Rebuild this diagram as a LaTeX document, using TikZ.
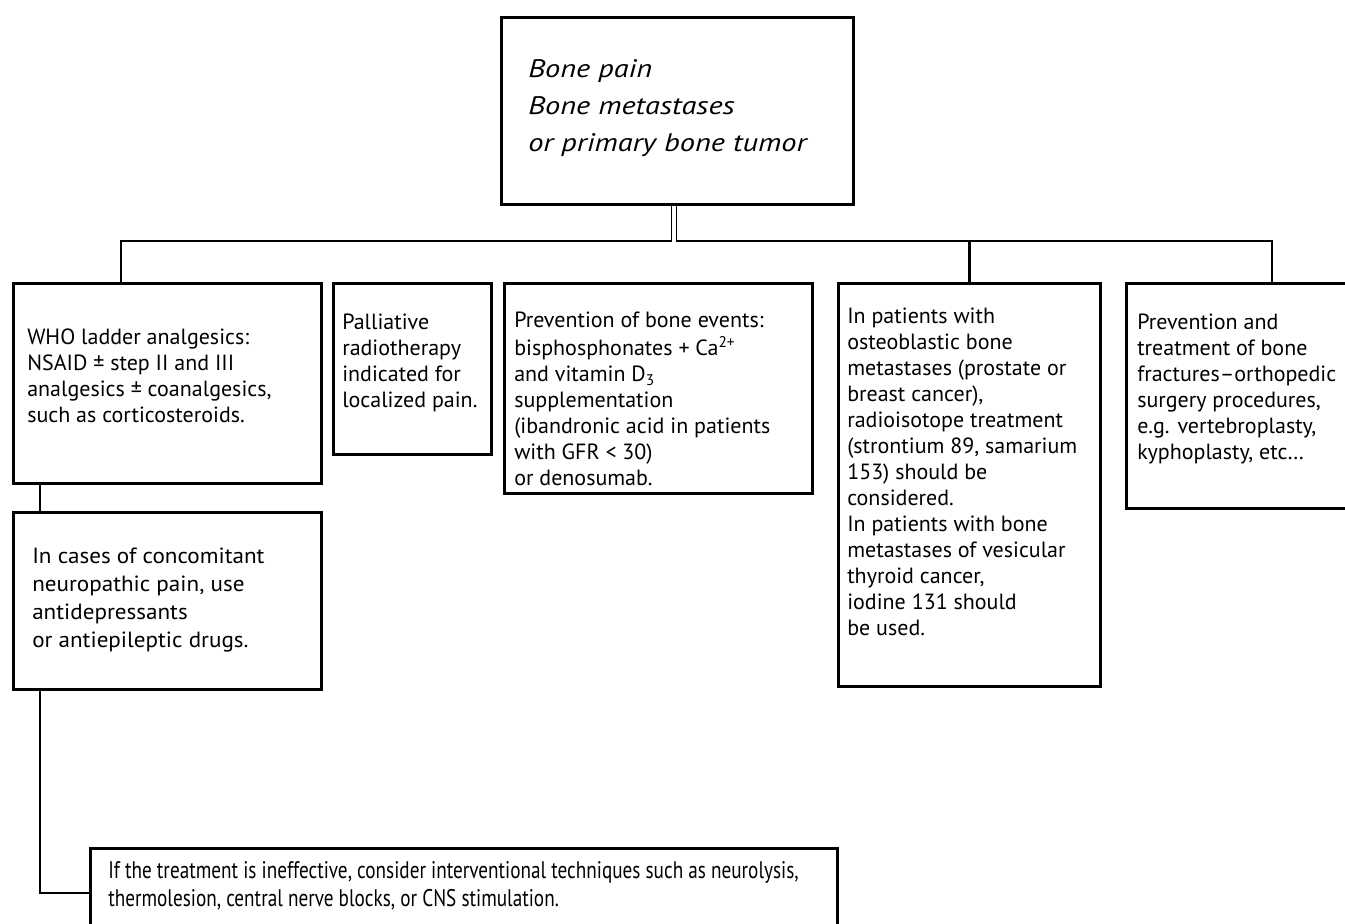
\documentclass[tikz,border=0pt]{standalone}
\usepackage{fontspec}
\setmainfont{PT Sans}
\newfontfamily\titlefam[FakeStretch=1.2]{PT Sans}
\newfontfamily\widefam[FakeStretch=1.05]{PT Sans}
\newfontfamily\narrowfam[FakeStretch=0.8]{PT Sans}
\usetikzlibrary{calc}
\newcommand\bodyfont{\fontsize{16.5}{19.5}\selectfont}
\newcommand\widefont{\widefam\fontsize{16.5}{21}\selectfont}
\newcommand\narrowfont{\narrowfam\fontsize{18}{21}\selectfont}
\newcommand\titlefont{\titlefam\itshape\fontsize{19}{27.75}\selectfont}
\tikzset{
  x=0.75pt, y=-0.75pt,
  box/.style={draw, line width=2pt, inner sep=0pt, anchor=north west},
  sz/.style 2 args={minimum width=#1*0.75pt, minimum height=#2*0.75pt},
  txt/.style={anchor=north west, inner sep=0pt, align=left, font=\bodyfont},
  conn/.style={line width=2pt, line join=miter},
}
\begin{document}
\begin{tikzpicture}
\useasboundingbox (0,0) rectangle (1345,924);
% boxes
\node[box, sz={352}{187}] (top) at (500,16) {};
\node[box, sz={308}{200}] (b1) at (12,282) {};
\node[box, sz={158}{171}] (b2) at (332,282) {};
\node[box, sz={308}{210}] (b3) at (503,282) {};
\node[box, sz={262}{403}] (b4) at (837,282) {};
\node[box, sz={250}{225}] (b5) at (1125,282) {};
\node[box, sz={308}{177}] (b6) at (12,511) {};
\node[box, sz={747}{110}] (b7) at (89,847) {};
% texts
\node[txt, font=\titlefont] (ttop) at ($(top.north west)+(28,35)$) {\strut Bone pain\\Bone metastases\\or primary bone tumor};
\node[txt] (t1) at ($(b1.north west)+(15,44)$) {\strut WHO ladder analgesics:\\NSAID ± step II and III\\analgesics ± coanalgesics,\\such as corticosteroids.};
\node[txt] (t2) at ($(b2.north west)+(10,29)$) {\strut Palliative\\radiotherapy\\indicated for\\localized pain.};
\node[txt] (t3) at ($(b3.north west)+(11,27)$) {\strut Prevention of bone events:\\bisphosphonates + Ca\textsuperscript{2+}\\and vitamin D\textsubscript{3}\\supplementation\\(ibandronic acid in patients\\with GFR < 30)\\or denosumab.};
\node[txt] (t4) at ($(b4.north west)+(10,23)$) {\strut In patients with\\osteoblastic bone\\metastases (prostate or\\breast cancer),\\radioisotope treatment\\(strontium 89, samarium\\153) should be\\considered.\\In patients with bone\\metastases of vesicular\\thyroid cancer,\\iodine 131 should\\be used.};
\node[txt] (t5) at ($(b5.north west)+(12,29)$) {\strut Prevention and\\treatment of bone\\fractures–orthopedic\\surgery procedures,\\e.g. vertebroplasty,\\kyphoplasty, etc…};
\node[txt, font=\widefont] (t6) at ($(b6.north west)+(20,33)$) {\strut In cases of concomitant\\neuropathic pain, use\\antidepressants\\or antiepileptic drugs.};
\node[txt, font=\narrowfont] (t7) at ($(b7.north west)+(19,12)$) {\strut If the treatment is ineffective, consider interventional techniques such as neurolysis,\\thermolesion, central nerve blocks, or CNS stimulation.};
% connectors
\coordinate (hl) at (121,241);
\coordinate (hr) at (1272,241);
\coordinate (mid) at (674,242);
\coordinate (bend) at (40,893);
\draw[conn] (b1.north -| hl) -- (hl) -- (hr) -- (b5.north -| hr);
\draw[conn] (b4.north) -- (b4.north |- hl);
\draw[line width=1.1pt, double=white, double distance=2.4pt] (top.south -| mid) -- (mid);
\draw[conn] (b1.south -| bend) -- (b6.north -| bend);
\draw[conn] (b6.south -| bend) -- (bend) -- (b7.west |- bend);
\end{tikzpicture}
\end{document}
